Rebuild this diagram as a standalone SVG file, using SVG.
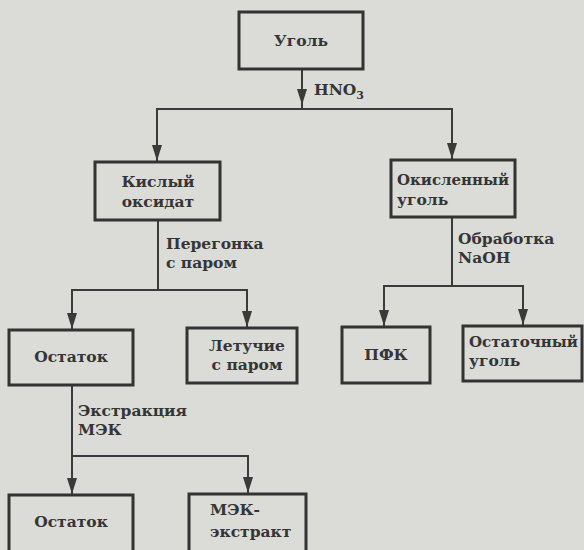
<svg xmlns="http://www.w3.org/2000/svg" width="584" height="550" viewBox="0 0 584 550">
<defs>
<style>
.box{fill:none;stroke:#333;stroke-width:3}
.ln{fill:none;stroke:#3a3a3a;stroke-width:2}
.ah{fill:#3a3a3a}
text{font-family:"DejaVu Serif","Liberation Serif",serif;font-weight:bold;font-size:15.5px;fill:#353535}
.c{text-anchor:middle}
</style>
</defs>
<rect width="584" height="550" fill="#dbdbd7"/>
<g id="connectors">
<line class="ln" x1="302" y1="70" x2="302" y2="109"/>
<path class="ah" d="M297,89 L307,89 L302,105 Z"/>
<polyline class="ln" points="157,161 157,109 452,109 452,159"/>
<path class="ah" d="M152,145 L162,145 L157,161 Z"/>
<path class="ah" d="M447,143 L457,143 L452,159 Z"/>
<line class="ln" x1="158" y1="220" x2="158" y2="290"/>
<polyline class="ln" points="72,329 72,290 247,290 247,327"/>
<path class="ah" d="M67,313 L77,313 L72,329 Z"/>
<path class="ah" d="M242,311 L252,311 L247,327 Z"/>
<line class="ln" x1="452" y1="217" x2="452" y2="286"/>
<polyline class="ln" points="384,326 384,286 523,286 523,325"/>
<path class="ah" d="M379,310 L389,310 L384,326 Z"/>
<path class="ah" d="M518,309 L528,309 L523,325 Z"/>
<polyline class="ln" points="72,385 72,494"/>
<polyline class="ln" points="72,456 248,456 248,493"/>
<path class="ah" d="M67,478 L77,478 L72,494 Z"/>
<path class="ah" d="M243,477 L253,477 L248,493 Z"/>
<text x="314" y="95">HNO<tspan font-size="11" dy="4">3</tspan></text>
<text x="166" y="249">Перегонка</text>
<text x="166" y="268">с паром</text>
<text x="458" y="244">Обработка</text>
<text x="458" y="263">NaOH</text>
<text x="78" y="416">Экстракция</text>
<text x="78" y="435">МЭК</text>
</g>
<g id="coal">
<rect class="box" x="239" y="12" width="124" height="57"/>
<text class="c" x="301" y="46">Уголь</text>
</g>
<g id="acid-oxidate">
<rect class="box" x="95" y="162" width="125" height="58"/>
<text class="c" x="158" y="187">Кислый</text>
<text class="c" x="158" y="207">оксидат</text>
</g>
<g id="oxidized-coal">
<rect class="box" x="391" y="160" width="124" height="57"/>
<text x="397" y="185" textLength="112" lengthAdjust="spacingAndGlyphs">Окисленный</text>
<text x="397" y="205">уголь</text>
</g>
<g id="residue1">
<rect class="box" x="9" y="330" width="124" height="55"/>
<text class="c" x="71" y="362">Остаток</text>
</g>
<g id="volatiles">
<rect class="box" x="187" y="328" width="110" height="55"/>
<text class="c" x="247" y="351">Летучие</text>
<text class="c" x="247" y="370">с паром</text>
</g>
<g id="pfk">
<rect class="box" x="342" y="327" width="88" height="56"/>
<text class="c" x="386" y="360">ПФК</text>
</g>
<g id="residual-coal">
<rect class="box" x="463" y="326" width="119" height="55"/>
<text x="469" y="347" textLength="109" lengthAdjust="spacingAndGlyphs">Остаточный</text>
<text x="469" y="366">уголь</text>
</g>
<g id="residue2">
<rect class="box" x="9" y="495" width="124" height="60"/>
<text class="c" x="71" y="527">Остаток</text>
</g>
<g id="mek-extract">
<rect class="box" x="189" y="494" width="117" height="61"/>
<text x="210" y="515">МЭК-</text>
<text x="210" y="537">экстракт</text>
</g>
</svg>
